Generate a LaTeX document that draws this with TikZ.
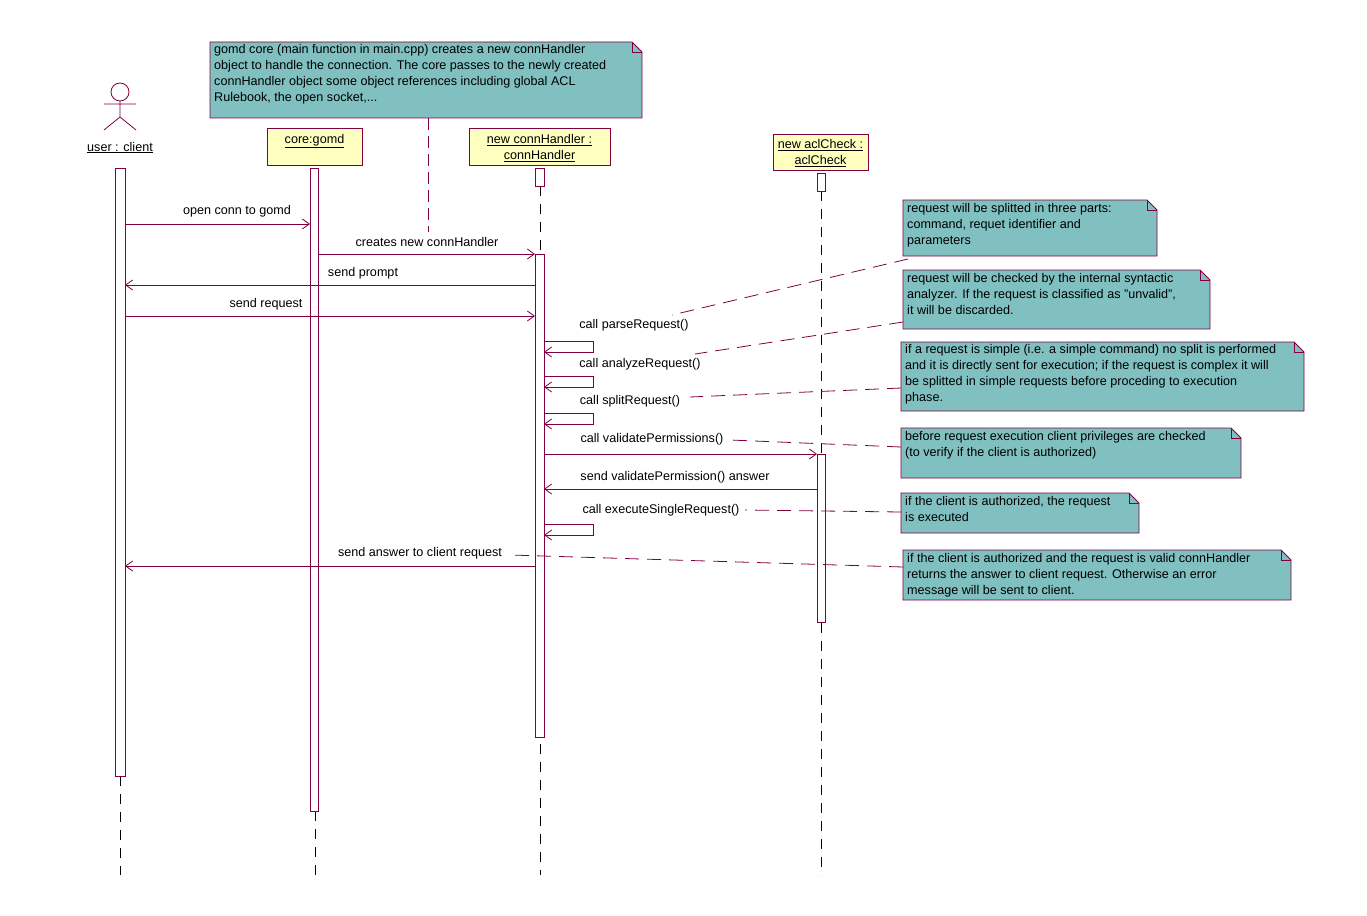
\documentclass[tikz,border=0pt]{standalone}
\usepackage{fontspec}
\setmainfont{Liberation Sans}
\usetikzlibrary{arrows.meta}
\definecolor{ln}{RGB}{128,0,64}
\definecolor{notec}{RGB}{128,192,192}
\definecolor{boxc}{RGB}{255,255,192}
\tikzset{x=1pt,y=-1pt,
 every node/.style={font=\fontsize{12.6}{16}\selectfont,inner sep=0pt},
 ln/.style={draw=ln,line width=0.8pt},
 bar/.style={ln,fill=white},
 obj/.style={ln,fill=boxc},
 msg/.style={ln,-{Straight Barb[length=7pt,width=10pt]}},
 life/.style={draw=black,line width=0.8pt,dash pattern=on 10pt off 8pt},
 link/.style={ln,dash pattern=on 14pt off 8pt},
 ntext/.style={anchor=north west,align=left}}
\newcommand{\note}[5]{% x1 y1 x2 y2 name
 \fill[notec] (#1,#2) -- (#3-10,#2) -- (#3,#2+10) -- (#3,#4) -- (#1,#4) -- cycle;
 \draw[ln] (#1,#2) -- (#3-10,#2) -- (#3,#2+10) -- (#3,#4) -- (#1,#4) -- cycle;
 \draw[ln] (#3-10,#2) -- (#3-10,#2+10) -- (#3,#2+10);
 \coordinate (#5) at (#1,#2);}
\begin{document}
\begin{tikzpicture}
\useasboundingbox (0,0) rectangle (1367,915);
% lifelines
\draw[life] (120,776) -- (120,875);
\draw[life] (315,811) -- (315,875);
\draw[life] (540,186) -- (540,875);
\draw[life] (821,191) -- (821,875);
% actor
\draw[ln] (120,92) circle (9);
\draw[ln] (120,101) -- (120,117) (104,104) -- (136,104) (104,130) -- (120,117) -- (136,130);
\node[anchor=base] (actor) at (120,151) {\underline{user : client}};
% objects
\draw[obj] (267,128) rectangle (362,165);
\node (core) at (314.5,141) {\underline{core:gomd}};
\draw[obj] (469,128) rectangle (610,165);
\node[align=center] (conn) at (539.5,148) {\underline{new connHandler :}\\\underline{connHandler}};
\draw[obj] (773,134) rectangle (868,170);
\node[align=center] (acl) at (820.5,153) {\underline{new aclCheck :}\\\underline{aclCheck}};
% bars
\draw[bar] (115,168) rectangle (125,776);
\draw[bar] (310,168) rectangle (318,811);
\draw[bar] (535,168) rectangle (544,186);
\draw[bar] (535,254) rectangle (544,737);
\draw[bar] (817,173) rectangle (825,191);
\draw[bar] (817,454) rectangle (825,622);
% top note
\note{210}{42}{642}{118}{ntop}
\node[ntext] at (214,44) {gomd core (main function in main.cpp) creates a new connHandler\\object to handle the connection. The core passes to the newly created\\connHandler object some object references including global ACL\\Rulebook, the open socket,...};
\draw[link,dash pattern=on 12pt off 6pt] (428,118) -- (428,232);
% messages
\coordinate (u1) at (125,224); \coordinate (c1) at (310,224);
\draw[msg] (u1) -- (c1);
\node (l1) at (237,211) {open conn to gomd};
\coordinate (c2) at (318,254); \coordinate (h2) at (535,254);
\draw[msg] (c2) -- (h2);
\node (l2) at (427,242) {creates new connHandler};
\coordinate (h3) at (535,285); \coordinate (u3) at (125,285);
\draw[msg] (h3) -- (u3);
\node (l3) at (363,273) {send prompt};
\coordinate (u4) at (125,316); \coordinate (h4) at (535,316);
\draw[msg] (u4) -- (h4);
\node (l4) at (266,304) {send request};
\node (m5) at (634,325) {call parseRequest()};
\draw[msg] (544,341) -- (593,341) -- (593,352) -- (544,352);
\node (m6) at (640,364) {call analyzeRequest()};
\draw[msg] (544,376) -- (593,376) -- (593,387) -- (544,387);
\node (m7) at (630,401) {call splitRequest()};
\draw[msg] (544,413) -- (593,413) -- (593,424) -- (544,424);
\node (m8) at (652,439) {call validatePermissions()};
\coordinate (h8) at (544,454); \coordinate (a8) at (817,454);
\draw[msg] (h8) -- (a8);
\coordinate (a9) at (817,489); \coordinate (h9) at (544,489);
\draw[msg] (a9) -- (h9);
\node (l9) at (675,477) {send validatePermission() answer};
\node (m10) at (661,510) {call executeSingleRequest()};
\draw[msg] (544,524) -- (593,524) -- (593,535) -- (544,535);
\coordinate (h11) at (535,566); \coordinate (u11) at (125,566);
\draw[msg] (h11) -- (u11);
\node (l11) at (420,553) {send answer to client request};
% notes
\note{903}{200}{1157}{256}{n1}
\node[ntext] at (907,203) {request will be splitted in three parts:\\command, requet identifier and\\parameters};
\note{903}{270}{1210}{329}{n2}
\node[ntext] at (907,273) {request will be checked by the internal syntactic\\analyzer. If the request is classified as "unvalid",\\it will be discarded.};
\note{901}{342}{1304}{411}{n3}
\node[ntext] at (905,344) {if a request is simple (i.e. a simple command) no split is performed\\and it is directly sent for execution; if the request is complex it will\\be splitted in simple requests before proceding to execution\\phase.};
\note{901}{428}{1241}{478}{n4}
\node[ntext] at (905,431) {before request execution client privileges are checked\\(to verify if the client is authorized)};
\note{901}{493}{1139}{533}{n5}
\node[ntext] at (905,496) {if the client is authorized, the request\\is executed};
\note{903}{550}{1291}{600}{n6}
\node[ntext] at (907,553) {if the client is authorized and the request is valid connHandler\\returns the answer to client request. Otherwise an error\\message will be sent to client.};
% links
\draw[link] (908,259) -- (672,315);
\draw[link] (903,322) -- (695,354);
\draw[link] (901,388) -- (690,397);
\draw[link] (901,447) -- (730,440);
\draw[link] (901,512) -- (745,510);
\draw[link] (903,567) -- (510,555);
\end{tikzpicture}
\end{document}
